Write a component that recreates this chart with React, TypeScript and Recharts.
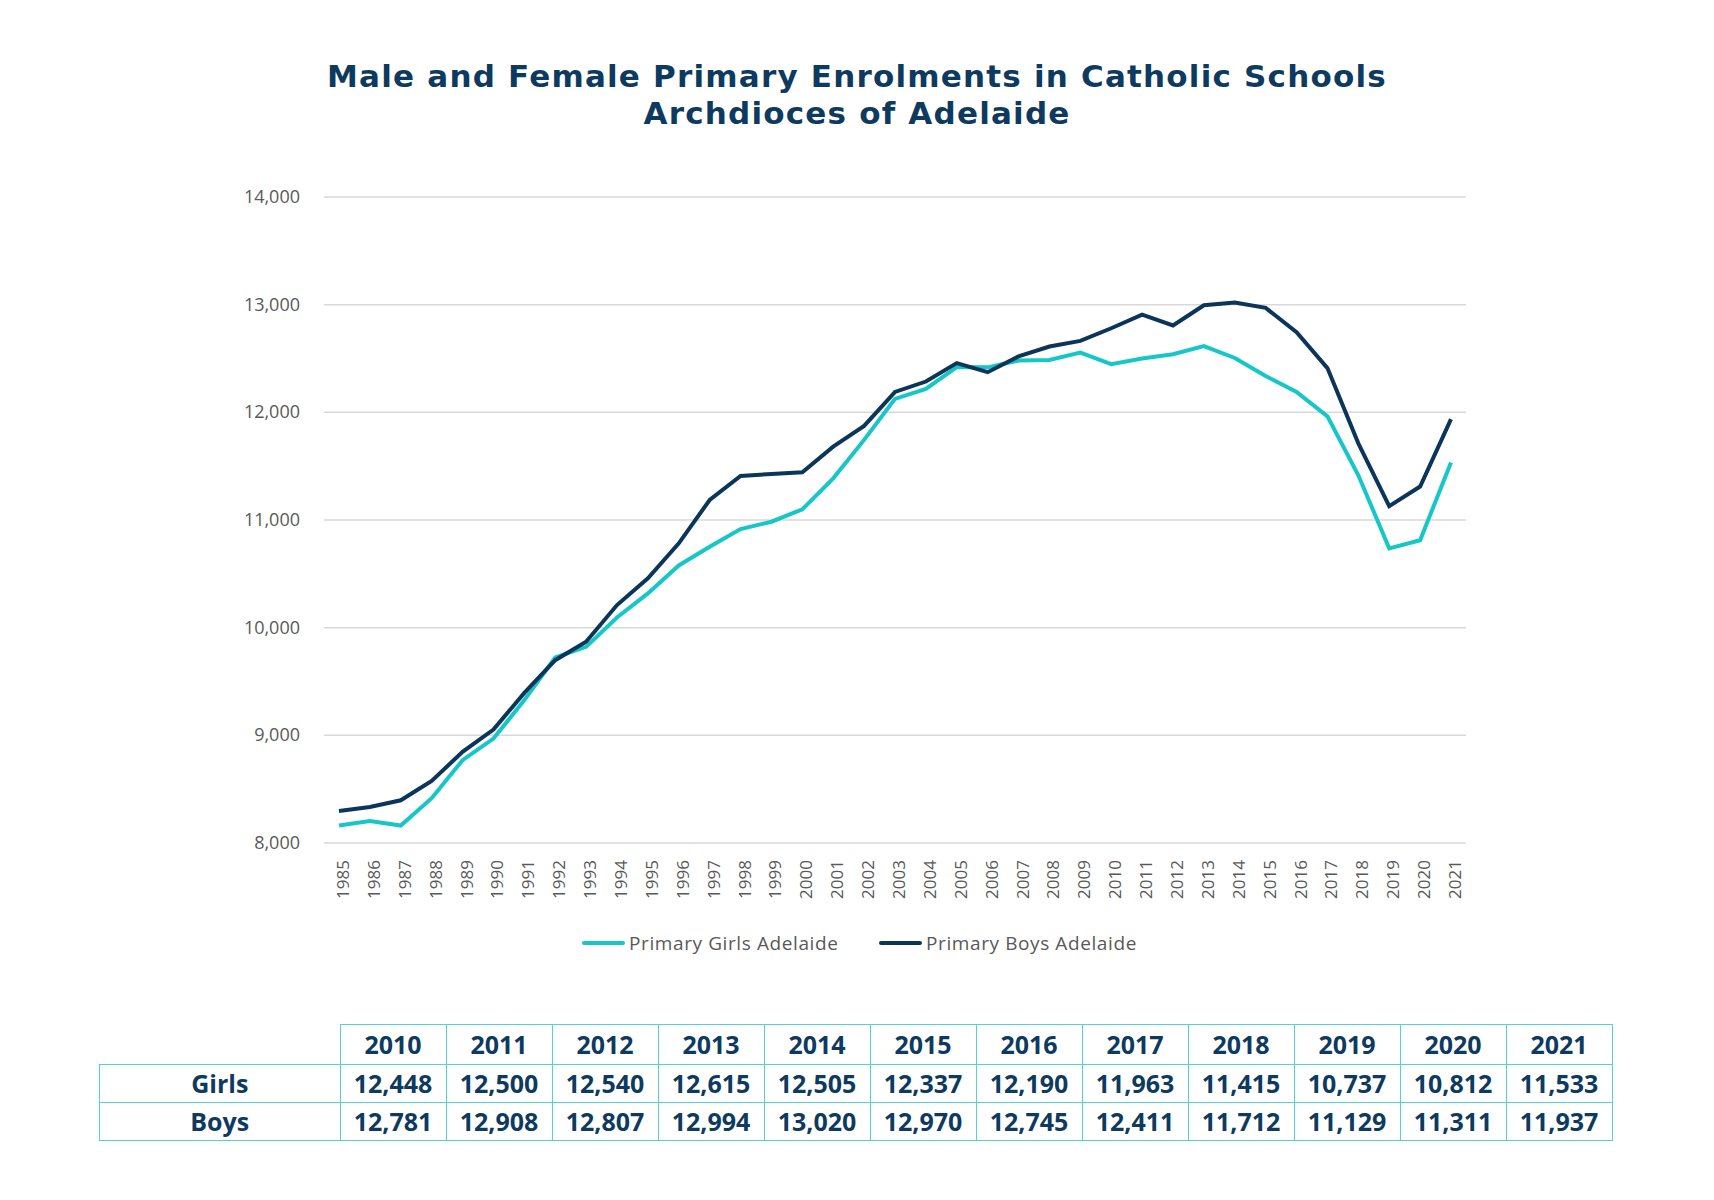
import React from "react";
import { LineChart, Line, XAxis, YAxis, CartesianGrid } from "recharts";

const years = [
  "1985", "1986", "1987", "1988", "1989", "1990", "1991", "1992", "1993", "1994",
  "1995", "1996", "1997", "1998", "1999", "2000", "2001", "2002", "2003", "2004",
  "2005", "2006", "2007", "2008", "2009", "2010", "2011", "2012", "2013", "2014",
  "2015", "2016", "2017", "2018", "2019", "2020", "2021",
];

const girls = [
  8162, 8205, 8162, 8416, 8769, 8970, 9327, 9723, 9822, 10095,
  10318, 10578, 10752, 10916, 10984, 11099, 11387, 11744, 12125, 12218,
  12420, 12418, 12481, 12487, 12555, 12448, 12500, 12540, 12615, 12505,
  12337, 12190, 11963, 11415, 10737, 10812, 11533,
];

const boys = [
  8297, 8335, 8397, 8577, 8846, 9054, 9394, 9698, 9869, 10210,
  10458, 10783, 11186, 11409, 11428, 11443, 11681, 11874, 12190, 12286,
  12457, 12373, 12519, 12611, 12664, 12781, 12908, 12807, 12994, 13020,
  12970, 12745, 12411, 11712, 11129, 11311, 11937,
];

const yTicks = [8000, 9000, 10000, 11000, 12000, 13000, 14000];
const tableFirstYear = "2010";

const TITLE_LINE_1 = "Male and Female Primary Enrolments in Catholic Schools";
const TITLE_LINE_2 = "Archdioces of Adelaide";
const GIRLS_NAME = "Primary Girls Adelaide";
const BOYS_NAME = "Primary Boys Adelaide";

const GIRLS_COLOR = "#17c7c7";
const BOYS_COLOR = "#0c3659";
const NAVY = "#0d3a5e";
const LABEL_COLOR = "#595959";
const BORDER = "#4fd3d3";
const FONT = "'Open Sans', 'DejaVu Sans', sans-serif";
const TITLE_FONT = "'DejaVu Sans', sans-serif";

const data = years.map((y, i) => ({ year: y, girls: girls[i], boys: boys[i] }));

const fmt = (v: number) => v.toLocaleString("en-US");

const XTick = (props: any) => {
  const { x, y, payload } = props;
  return (
    <text
      x={0}
      y={0}
      dy={10}
      transform={`translate(${x},${y + 9}) rotate(-90)`}
      textAnchor="end"
      fill={LABEL_COLOR}
      fontSize={17}
      fontFamily={FONT}
    >
      {payload.value}
    </text>
  );
};

const YTick = (props: any) => {
  const { x, y, payload } = props;
  return (
    <text
      x={x}
      y={y}
      dy={6}
      textAnchor="end"
      fill={LABEL_COLOR}
      fontSize={18}
      fontFamily={FONT}
    >
      {fmt(payload.value)}
    </text>
  );
};

export default function App() {
  const startIdx = years.indexOf(tableFirstYear);
  const tYears = years.slice(startIdx);
  const tGirls = girls.slice(startIdx);
  const tBoys = boys.slice(startIdx);

  const cellStyle: React.CSSProperties = {
    border: `1.5px solid ${BORDER}`,
    width: 106,
    height: 38,
    padding: 0,
    textAlign: "center",
    verticalAlign: "middle",
    boxSizing: "border-box",
  };

  return (
    <div
      style={{
        position: "absolute",
        left: 0,
        top: 0,
        width: 1714,
        height: 1200,
        background: "#ffffff",
        fontFamily: FONT,
        overflow: "hidden",
      }}
    >
      <div
        style={{
          position: "absolute",
          left: 0,
          top: 58,
          width: 1714,
          textAlign: "center",
          color: NAVY,
          fontWeight: 700,
          fontFamily: TITLE_FONT,
          fontSize: 31,
          letterSpacing: "1.2px",
          lineHeight: "36.7px",
        }}
      >
        <div>{TITLE_LINE_1}</div>
        <div>{TITLE_LINE_2}</div>
      </div>

      <div style={{ position: "absolute", left: 0, top: 0 }}>
        <LineChart
          width={1714}
          height={1000}
          data={data}
          margin={{ top: 197, right: 248, bottom: 97, left: 250 }}
        >
          <CartesianGrid vertical={false} stroke="#d9d9d9" strokeWidth={1.5} />
          <XAxis
            dataKey="year"
            interval={0}
            axisLine={false}
            tickLine={false}
            height={60}
            padding={{ left: 15, right: 15 }}
            tick={<XTick />}
          />
          <YAxis
            domain={[8000, 14000]}
            ticks={yTicks}
            interval={0}
            axisLine={false}
            tickLine={false}
            width={74}
            tickMargin={18}
            tick={<YTick />}
          />
          <Line
            type="linear"
            dataKey="girls"
            name={GIRLS_NAME}
            stroke={GIRLS_COLOR}
            strokeWidth={4}
            dot={false}
            activeDot={false}
            isAnimationActive={false}
          />
          <Line
            type="linear"
            dataKey="boys"
            name={BOYS_NAME}
            stroke={BOYS_COLOR}
            strokeWidth={4}
            dot={false}
            activeDot={false}
            isAnimationActive={false}
          />
        </LineChart>
      </div>

      {[
        { name: GIRLS_NAME, color: GIRLS_COLOR, left: 582 },
        { name: BOYS_NAME, color: BOYS_COLOR, left: 879 },
      ].map((l) => (
        <div
          key={l.name}
          style={{
            position: "absolute",
            left: l.left,
            top: 929,
            height: 28,
            display: "flex",
            alignItems: "center",
          }}
        >
          <div
            style={{
              width: 43,
              height: 4,
              borderRadius: 2,
              background: l.color,
              marginRight: 4,
            }}
          />
          <span
            style={{
              fontSize: 19,
              letterSpacing: "0.6px",
              color: LABEL_COLOR,
              whiteSpace: "nowrap",
            }}
          >
            {l.name}
          </span>
        </div>
      ))}

      <table
        style={{
          position: "absolute",
          left: 99,
          top: 1024,
          borderCollapse: "collapse",
          color: NAVY,
          fontWeight: 700,
          fontSize: 25,
          fontFamily: FONT,
        }}
      >
        <tbody>
          <tr>
            <td style={{ width: 240, height: 39, padding: 0 }} />
            {tYears.map((y) => (
              <td key={y} style={{ ...cellStyle, height: 39 }}>
                {y}
              </td>
            ))}
          </tr>
          <tr>
            <td style={{ ...cellStyle, width: 240 }}>Girls</td>
            {tGirls.map((v, i) => (
              <td key={i} style={cellStyle}>
                {fmt(v)}
              </td>
            ))}
          </tr>
          <tr>
            <td style={{ ...cellStyle, width: 240 }}>Boys</td>
            {tBoys.map((v, i) => (
              <td key={i} style={cellStyle}>
                {fmt(v)}
              </td>
            ))}
          </tr>
        </tbody>
      </table>
    </div>
  );
}
